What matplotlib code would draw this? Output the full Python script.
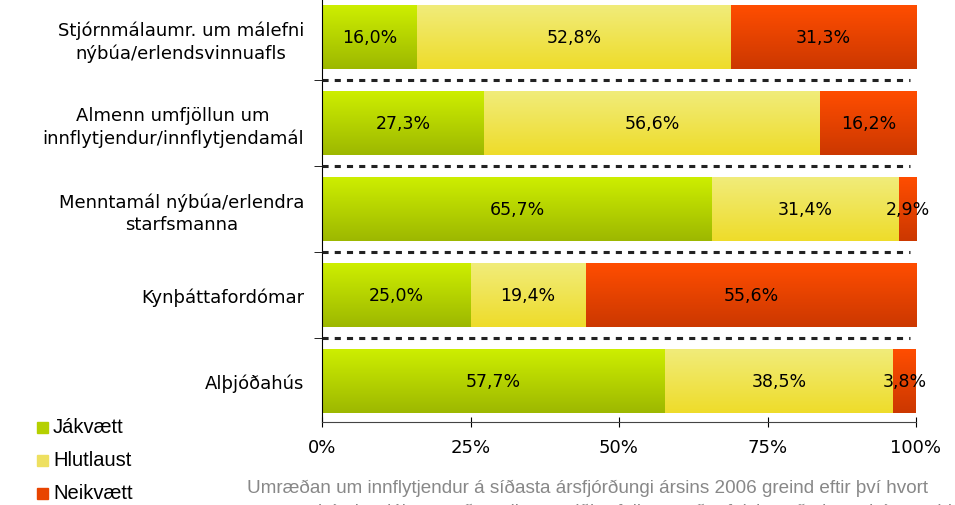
import numpy as np
import matplotlib
matplotlib.use("Agg")
import matplotlib.pyplot as plt
from matplotlib.colors import LinearSegmentedColormap
from matplotlib.patches import Rectangle

plt.rcParams['font.family'] = ['DejaVu Sans']

categories = [
    "Stjórnmálaumr. um málefni\nnýbúa/erlendsvinnuafls",
    "Almenn umfjöllun um\ninnflytjendur/innflytjendamál",
    "Menntamál nýbúa/erlendra\nstarfsmanna",
    "Kynþáttafordómar",
    "Alþjóðahús",
]
jakvaett = [16.0, 27.3, 65.7, 25.0, 57.7]
hlutlaust = [52.8, 56.6, 31.4, 19.4, 38.5]
neikvaett = [31.3, 16.2, 2.9, 55.6, 3.8]
series_names = ["Jákvætt", "Hlutlaust", "Neikvætt"]
xticks = [0, 25, 50, 75, 100]

# top and bottom colours of the gradients
grad = [("#CDEE00", "#9DB800"), ("#F1EC7A", "#EEDC2A"), ("#FF4D00", "#CC3800")]
legend_colors = ["#B5D000", "#EEE060", "#E84400"]

fig = plt.figure(figsize=(9.55, 5.06), dpi=100)
ax = fig.add_axes([322 / 955, 83 / 506, 594 / 955, 430 / 506])

y = np.arange(len(categories))
left = np.zeros(len(categories))
for vals, (c_top, c_bot) in zip([jakvaett, hlutlaust, neikvaett], grad):
    bars = ax.barh(y, vals, left=left, height=0.74, color=c_bot, edgecolor='none')
    cmap = LinearSegmentedColormap.from_list('g', [c_top, c_bot])
    for b, v in zip(bars, vals):
        x0, y0 = b.get_x(), b.get_y()
        w, h = b.get_width(), b.get_height()
        im = ax.imshow(np.linspace(0, 1, 64).reshape(-1, 1), cmap=cmap, aspect='auto',
                       extent=[x0, x0 + w, y0 + h, y0], interpolation='bilinear', zorder=2)
        im.set_clip_path(b)
        ax.text(x0 + w / 2, y0 + h / 2, f"{v:.1f}%".replace('.', ','),
                ha='center', va='center', fontsize=12.5, zorder=3)
    left += np.array(vals)

for sep in y[:-1] + 0.5:
    ax.plot([0, 99], [sep, sep], color='#222222', lw=2.2, ls=(0, (2, 2)), zorder=3)

ax.set_xlim(0, 100)
ax.set_ylim(len(categories) - 0.52, -0.52)
ax.set_xticks(xticks)
ax.set_xticklabels([f"{t}%" for t in xticks], fontsize=13)
ax.tick_params(axis='x', direction='inout', length=7, pad=8)
ax.set_yticks(y)
ax.set_yticklabels(categories, fontsize=13, ha='right', multialignment='center',
                   linespacing=1.3)
ax.tick_params(axis='y', length=0, pad=13)
ax.set_yticks(y[:-1] + 0.5, minor=True)
ax.tick_params(axis='y', which='minor', length=6, direction='out')
for s in ['top', 'right']:
    ax.spines[s].set_visible(False)
ax.spines['left'].set_color('black')
ax.spines['bottom'].set_color('#444444')

# legend on the bottom left
for i, (name, col) in enumerate(zip(series_names, legend_colors)):
    yy = (506 - 428 - i * 33) / 506
    fig.patches.append(Rectangle((37 / 955, yy - 5.5 / 506), 11 / 955, 11 / 506,
                                 transform=fig.transFigure, color=col))
    fig.text(53 / 955, yy, name, fontsize=14.5, va='center', family='Liberation Sans')

fig.text(247 / 955, 18 / 506,
         "Umræðan um innflytjendur á síðasta ársfjórðungi ársins 2006 greind eftir því hvort",
         fontsize=13.6, color='#888888', va='center', family='Liberation Sans')
fig.text(318 / 955, -6 / 506,
         "hún bar jákvætt eða neikvætt viðhorf til umræðuefnisins eða hvort hún var hlutlaus",
         fontsize=13.6, color='#888888', va='center', family='Liberation Sans')

fig.savefig("out.png", dpi=100)
